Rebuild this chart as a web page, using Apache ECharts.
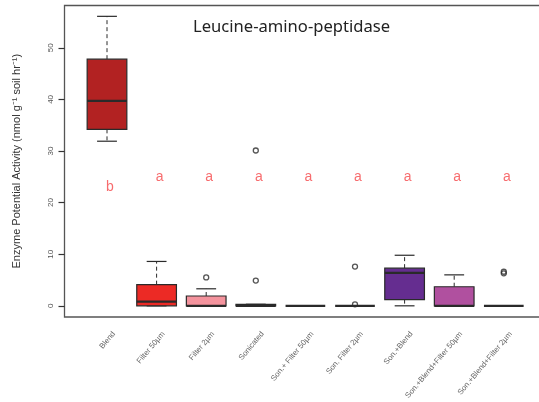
<!DOCTYPE html>
<html>
<head>
<meta charset="utf-8">
<script src="https://cdn.jsdelivr.net/npm/echarts@6/dist/echarts.min.js"></script>
<style>html,body{margin:0;padding:0;background:#fff}#chart{width:539px;height:402px}</style>
</head>
<body>
<div id="chart"></div>
<script>
// Treatments along the x axis
const categories = ['Blend', 'Filter 50µm', 'Filter 2µm', 'Sonicated', 'Son.+ Filter 50µm',
  'Son. Filter 2µm', 'Son.+Blend', 'Son.+Blend+Filter 50µm', 'Son.+Blend+Filter 2µm'];

// Five-number summaries per treatment (nmol g-1 soil hr-1)
const whiskerLow  = [31.9, 0,   0,   0,   0, 0, 0,   0,   0];
const quart1      = [34.2, 0,   0,   0,   0, 0, 1.2, 0,   0];
const medians     = [39.7, 0.8, 0,   0,   0, 0, 6.4, 0,   0];
const quart3      = [47.8, 4.1, 1.9, 0.3, 0, 0, 7.3, 3.7, 0];
const whiskerHigh = [56.1, 8.6, 3.3, 0.3, 0, 0, 9.8, 6.0, 0];

// Outlying observations: treatment index and value
const outlierCat = [2,   3,   3,    5,   5,   8,   8];
const outlierVal = [5.5, 4.9, 30.1, 0.3, 7.6, 6.3, 6.6];

// Significance groups
const letters = ['b', 'a', 'a', 'a', 'a', 'a', 'a', 'a', 'a'];
const letterY = [23, 25, 25, 25, 25, 25, 25, 25, 25];

const yTicks = [0, 10, 20, 30, 40, 50];

const boxColors = ['#B22222', '#EC2A25', '#F4939D', '#1a1a1a', '#444', '#444', '#652D90', '#B0509F', '#444'];

const boxData = categories.map((c, i) => [i, whiskerLow[i], quart1[i], medians[i], quart3[i], whiskerHigh[i]]);
const outlierData = outlierCat.map((c, k) => [c, outlierVal[k]]);
const letterData = letters.map((l, i) => [i, letterY[i], l]);

function renderBox(params, api) {
  const i = api.value(0);
  const lo = api.coord([i, api.value(1)]);
  const q1 = api.coord([i, api.value(2)]);
  const md = api.coord([i, api.value(3)]);
  const q3 = api.coord([i, api.value(4)]);
  const hi = api.coord([i, api.value(5)]);
  const cx = lo[0];
  const bw = api.size([1, 0])[0] * 0.8;
  const hw = bw / 2, cw = bw / 4;
  const ink = '#2a2a2a';
  const children = [];
  if (hi[1] < q3[1]) {
    children.push({ type: 'line', shape: { x1: cx, y1: q3[1], x2: cx, y2: hi[1] },
      style: { stroke: ink, lineWidth: 1, lineDash: [4, 3] } });
  }
  if (lo[1] > q1[1]) {
    children.push({ type: 'line', shape: { x1: cx, y1: q1[1], x2: cx, y2: lo[1] },
      style: { stroke: ink, lineWidth: 1, lineDash: [4, 3] } });
  }
  children.push({ type: 'line', shape: { x1: cx - cw, y1: hi[1], x2: cx + cw, y2: hi[1] },
    style: { stroke: ink, lineWidth: 1.2 } });
  children.push({ type: 'line', shape: { x1: cx - cw, y1: lo[1], x2: cx + cw, y2: lo[1] },
    style: { stroke: ink, lineWidth: 1.2 } });
  if (q1[1] - q3[1] > 0.5) {
    children.push({ type: 'rect', shape: { x: cx - hw, y: q3[1], width: bw, height: q1[1] - q3[1] },
      style: { fill: boxColors[i], stroke: ink, lineWidth: 1.2 } });
  }
  children.push({ type: 'line', shape: { x1: cx - hw, y1: md[1], x2: cx + hw, y2: md[1] },
    style: { stroke: ink, lineWidth: 2.2 } });
  return { type: 'group', children };
}

const chart = echarts.init(document.getElementById('chart'), null, { renderer: 'canvas' });
chart.setOption({
  animation: false,
  backgroundColor: '#fff',
  title: {
    text: 'Leucine-amino-peptidase', left: 193, top: 19, padding: 0,
    textStyle: { fontFamily: 'Noto Sans', fontSize: 16.6, fontWeight: 'normal', color: '#222' }
  },
  graphic: [{
    type: 'rect', shape: { x: 64.5, y: 5.5, width: 482, height: 311.5 },
    style: { fill: 'none', stroke: '#555', lineWidth: 1.3 }, silent: true
  }],
  grid: { left: 82.2, top: 5.5, width: 446.4, height: 311.5 },
  xAxis: {
    type: 'category', data: categories, boundaryGap: true,
    axisLine: { show: false },
    axisTick: { alignWithLabel: true, length: 5, lineStyle: { color: '#333', width: 1.2 } },
    axisLabel: { interval: 0, rotate: 50, fontSize: 7.8, color: '#666', margin: 10,
      align: 'right', verticalAlign: 'top', padding: [5, 0, 0, 0],
      fontFamily: 'Liberation Sans' }
  },
  yAxis: {
    type: 'value', min: -2.13, max: 58.2, offset: 17.7,
    name: 'Enzyme Potential Activity (nmol g⁻¹ soil hr⁻¹)', nameLocation: 'middle', nameGap: 42,
    nameTextStyle: { fontFamily: 'Liberation Sans', fontSize: 11, color: '#333' },
    axisLine: { show: false },
    splitLine: { show: false },
    axisTick: { show: true, customValues: yTicks, length: 6, lineStyle: { color: '#333', width: 1.2 } },
    axisLabel: { customValues: yTicks, rotate: 90, fontSize: 8, color: '#555', margin: 10,
      fontFamily: 'Liberation Sans' }
  },
  series: [
    {
      type: 'custom', data: boxData, renderItem: renderBox,
      encode: { x: 0, y: [1, 2, 3, 4, 5] }, z: 3
    },
    {
      type: 'scatter', data: outlierData, symbol: 'circle', symbolSize: 5,
      itemStyle: { color: 'rgba(255,255,255,0)', borderColor: '#2a2a2a', borderWidth: 1.3 }, z: 4
    },
    {
      type: 'scatter', data: letterData, symbolSize: 0,
      label: { show: true, position: 'inside', offset: [3, 0], formatter: p => p.value[2],
        fontSize: 14, color: '#F5474A', fontFamily: 'Liberation Sans' }, z: 5
    }
  ]
});
</script>
</body>
</html>
